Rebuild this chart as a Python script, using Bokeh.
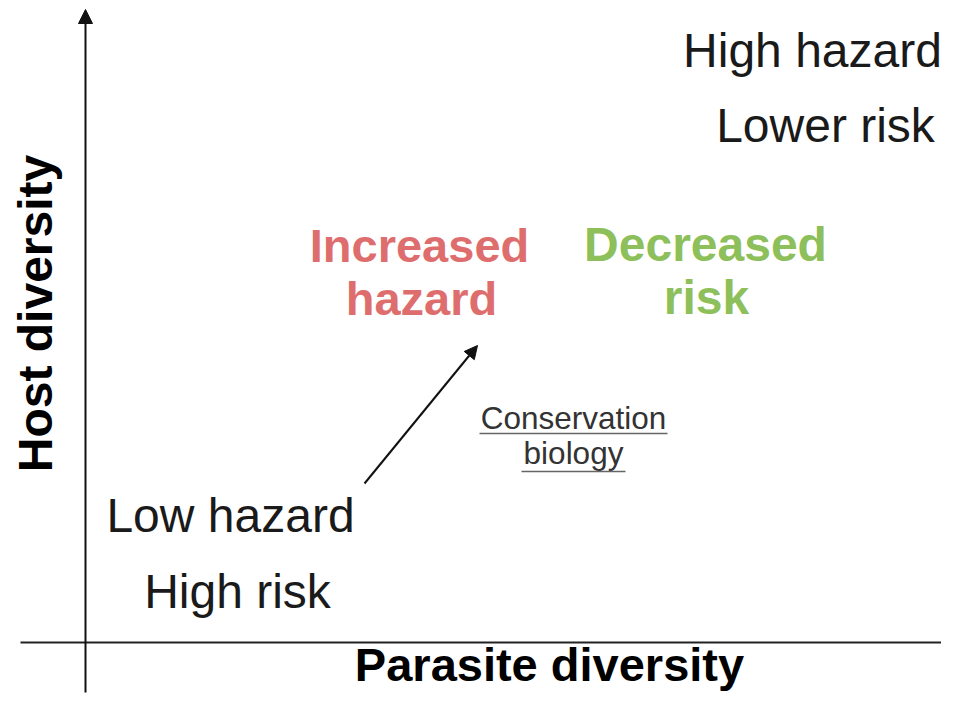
from bokeh.plotting import figure
from bokeh.models import Range1d, Arrow, NormalHead
from bokeh.core.properties import value
from bokeh.embed import file_html
from bokeh.resources import INLINE
import math

# Conceptual diagram: origin at the axes intersection, units ~ pixels
axis_titles = ["Parasite diversity", "Host diversity"]

corner_labels = ["High hazard", "Lower risk", "Low hazard", "High risk"]
corner_x = [727, 740, 145, 152]
corner_y = [575, 500, 110, 34]

red_labels = ["Increased", "hazard"]
red_x = [334, 336]
red_y = [381, 328]

green_labels = ["Decreased", "risk"]
green_x = [620, 621]
green_y = [381, 328]

note_labels = ["Conservation", "biology"]
note_x = [488, 488]
note_y = [214, 179]
note_underline_y = [209, 171]
note_halfwidth = [94, 52]

# arrow from "Low hazard" corner towards "Increased hazard"
shift_start = (279, 159)
shift_end = (392, 297)

W, H = 941, 693
p = figure(width=W, height=H, output_backend="svg", toolbar_location=None,
           x_range=Range1d(-85, 856), y_range=Range1d(-51, 642),
           x_axis_type=None, y_axis_type=None, min_border=0)
p.grid.visible = False
p.outline_line_color = None
p.background_fill_color = "white"
p.border_fill_color = "white"

FONT = value("Liberation Sans")
BL = 0.345  # renderer places alphabetic baseline ~0.35em below the anchor


def lift(ys, size, k=BL):
    return [y + k * size for y in ys]


# axes lines
p.segment(x0=[-65], y0=[0], x1=[880], y1=[0], line_color="#222222", line_width=2)
p.add_layout(Arrow(end=NormalHead(size=14, fill_color="#111111", line_color="#111111"),
                   x_start=0, y_start=-50, x_end=0, y_end=633,
                   line_color="#111111", line_width=2))

# diagonal arrow
p.add_layout(Arrow(end=NormalHead(size=13, fill_color="#111111", line_color="#111111"),
                   x_start=shift_start[0], y_start=shift_start[1],
                   x_end=shift_end[0], y_end=shift_end[1],
                   line_color="#111111", line_width=2))

# axis titles
p.text(x=[464], y=lift([-41], 47, 0.404), text=[axis_titles[0]], text_font=FONT,
       text_font_style="bold", text_font_size="47px", text_align="center",
       text_baseline="alphabetic", text_color="#000000")
p.text(x=[-31 - 0.404 * 48], y=[329], text=[axis_titles[1]], angle=math.pi / 2,
       text_font=FONT, text_font_style="bold", text_font_size="48px",
       text_align="center", text_baseline="alphabetic", text_color="#000000")

# corner labels
p.text(x=corner_x, y=lift(corner_y, 48), text=corner_labels, text_font=FONT,
       text_font_size="48px", text_align="center", text_baseline="alphabetic",
       text_color="#1a1a1a")

# coloured labels
p.text(x=red_x, y=lift(red_y, 47), text=red_labels, text_font=FONT,
       text_font_style="bold", text_font_size="47px", text_align="center",
       text_baseline="alphabetic", text_color="#DE6E6E")
p.text(x=green_x, y=lift(green_y, 48), text=green_labels, text_font=FONT,
       text_font_style="bold", text_font_size="48px", text_align="center",
       text_baseline="alphabetic", text_color="#8DBF5A")

# underlined note
p.text(x=note_x, y=lift(note_y, 31.5), text=note_labels, text_font=FONT,
       text_font_size="31.5px", text_align="center", text_baseline="alphabetic",
       text_color="#333333")
p.segment(x0=[x - w for x, w in zip(note_x, note_halfwidth)], y0=note_underline_y,
          x1=[x + w for x, w in zip(note_x, note_halfwidth)], y1=note_underline_y,
          line_color="#666666", line_width=1.5)

open("out.html", "w").write(file_html(p, INLINE))
